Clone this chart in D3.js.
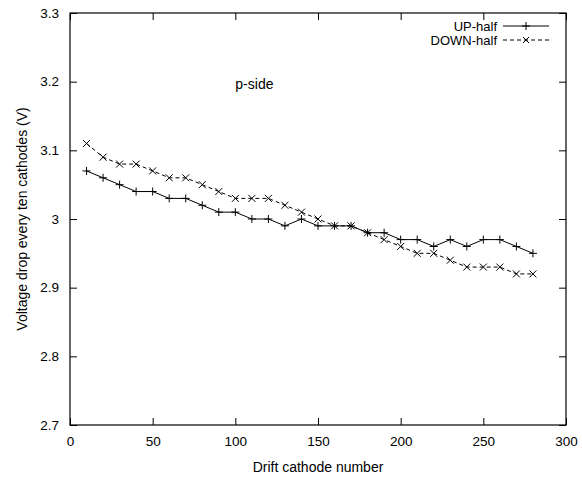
<!DOCTYPE html>
<html>
<head>
<meta charset="utf-8">
<script src="https://cdn.jsdelivr.net/npm/d3@7"></script>
<style>
  body { margin: 0; background: #fff; }
  text { font-family: "Liberation Sans", Arial, sans-serif; font-size: 14px; fill: #000; }
</style>
</head>
<body>
<div id="chart"></div>
<script>
// drift cathode number (every ten cathodes)
const cathodes = [10,20,30,40,50,60,70,80,90,100,110,120,130,140,150,160,170,180,190,200,210,220,230,240,250,260,270,280];
const upHalf = [3.07,3.06,3.05,3.04,3.04,3.03,3.03,3.02,3.01,3.01,3.00,3.00,2.99,3.00,2.99,2.99,2.99,2.98,2.98,2.97,2.97,2.96,2.97,2.96,2.97,2.97,2.96,2.95];
const downHalf = [3.11,3.09,3.08,3.08,3.07,3.06,3.06,3.05,3.04,3.03,3.03,3.03,3.02,3.01,3.00,2.99,2.99,2.98,2.97,2.96,2.95,2.95,2.94,2.93,2.93,2.93,2.92,2.92];
const xTicks = [0,50,100,150,200,250,300];
const yTicks = [2.7,2.8,2.9,3.0,3.1,3.2,3.3];
const seriesNames = ["UP-half", "DOWN-half"];

let margin = {top: 13, right: 16, bottom: 56, left: 70},
    width = 582 - margin.left - margin.right,
    height = 481 - margin.top - margin.bottom;

let x = d3.scaleLinear().domain([0, 300]).range([0, width]);
let y = d3.scaleLinear().domain([2.7, 3.3]).range([height, 0]);

let svg = d3.select("#chart").append("svg")
    .attr("width", 582)
    .attr("height", 481)
  .append("g")
    .attr("transform", "translate(" + margin.left + "," + margin.top + ")");

let fmt = d => d3.format("~g")(d);

// axes, ticks pointing inward, mirrored on top/right
svg.append("g")
    .attr("transform", "translate(0," + height + ")")
    .call(d3.axisBottom(x).tickValues(xTicks).tickSize(-7).tickPadding(11).tickFormat(fmt));
svg.append("g")
    .call(d3.axisTop(x).tickValues(xTicks).tickSize(-7).tickFormat(""));
svg.append("g")
    .call(d3.axisLeft(y).tickValues(yTicks).tickSize(-7).tickPadding(11).tickFormat(fmt));
svg.append("g")
    .attr("transform", "translate(" + width + ",0)")
    .call(d3.axisRight(y).tickValues(yTicks).tickSize(-7).tickFormat(""));

svg.selectAll(".domain").remove();
svg.selectAll(".tick line").attr("stroke", "#000");
svg.selectAll(".tick text").style("font-size", "13.5px").style("font-family", "Liberation Sans, Arial, sans-serif");

svg.append("rect")
    .attr("width", width).attr("height", height)
    .attr("fill", "none").attr("stroke", "#000").attr("stroke-width", 1.2);

// axis titles
svg.append("text")
    .attr("x", width / 2).attr("y", height + 47)
    .attr("text-anchor", "middle")
    .text("Drift cathode number");
svg.append("text")
    .attr("transform", "translate(" + (-43) + "," + (height / 2) + ") rotate(-90)")
    .attr("text-anchor", "middle")
    .text("Voltage drop every ten cathodes (V)");

svg.append("text")
    .attr("x", x(100)).attr("y", y(3.19))
    .text("p-side");

let line = d3.line();

function plusPath(px, py, s) {
  return "M" + (px - s) + "," + py + "H" + (px + s) + "M" + px + "," + (py - s) + "V" + (py + s);
}
function crossPath(px, py, s) {
  return "M" + (px - s) + "," + (py - s) + "L" + (px + s) + "," + (py + s) +
         "M" + (px - s) + "," + (py + s) + "L" + (px + s) + "," + (py - s);
}

// UP-half
let upPts = cathodes.map((c, i) => [x(c), y(upHalf[i])]);
svg.append("path").attr("d", line(upPts))
    .attr("fill", "none").attr("stroke", "#000").attr("stroke-width", 1);
svg.append("path")
    .attr("d", upPts.map(p => plusPath(p[0], p[1], 4)).join(""))
    .attr("stroke", "#000").attr("stroke-width", 1);

// DOWN-half
let downPts = cathodes.map((c, i) => [x(c), y(downHalf[i])]);
svg.append("path").attr("d", line(downPts))
    .attr("fill", "none").attr("stroke", "#000").attr("stroke-width", 1)
    .attr("stroke-dasharray", "4,3");
svg.append("path")
    .attr("d", downPts.map(p => crossPath(p[0], p[1], 3.5)).join(""))
    .attr("stroke", "#000").attr("stroke-width", 1);

// legend
let lx1 = 433, lx2 = 479, ly = 13;
svg.append("text").attr("x", lx1 - 6).attr("y", ly).attr("dy", "0.35em")
    .attr("text-anchor", "end").style("font-size", "13px").text(seriesNames[0]);
svg.append("line").attr("x1", lx1).attr("x2", lx2).attr("y1", ly).attr("y2", ly)
    .attr("stroke", "#000");
svg.append("path").attr("d", plusPath((lx1 + lx2) / 2, ly, 4)).attr("stroke", "#000");

svg.append("text").attr("x", lx1 - 6).attr("y", ly + 14).attr("dy", "0.35em")
    .attr("text-anchor", "end").style("font-size", "13px").text(seriesNames[1]);
svg.append("line").attr("x1", lx1).attr("x2", lx2).attr("y1", ly + 14).attr("y2", ly + 14)
    .attr("stroke", "#000").attr("stroke-dasharray", "4,3");
svg.append("path").attr("d", crossPath((lx1 + lx2) / 2, ly + 14, 3)).attr("stroke", "#000");
</script>
</body>
</html>
